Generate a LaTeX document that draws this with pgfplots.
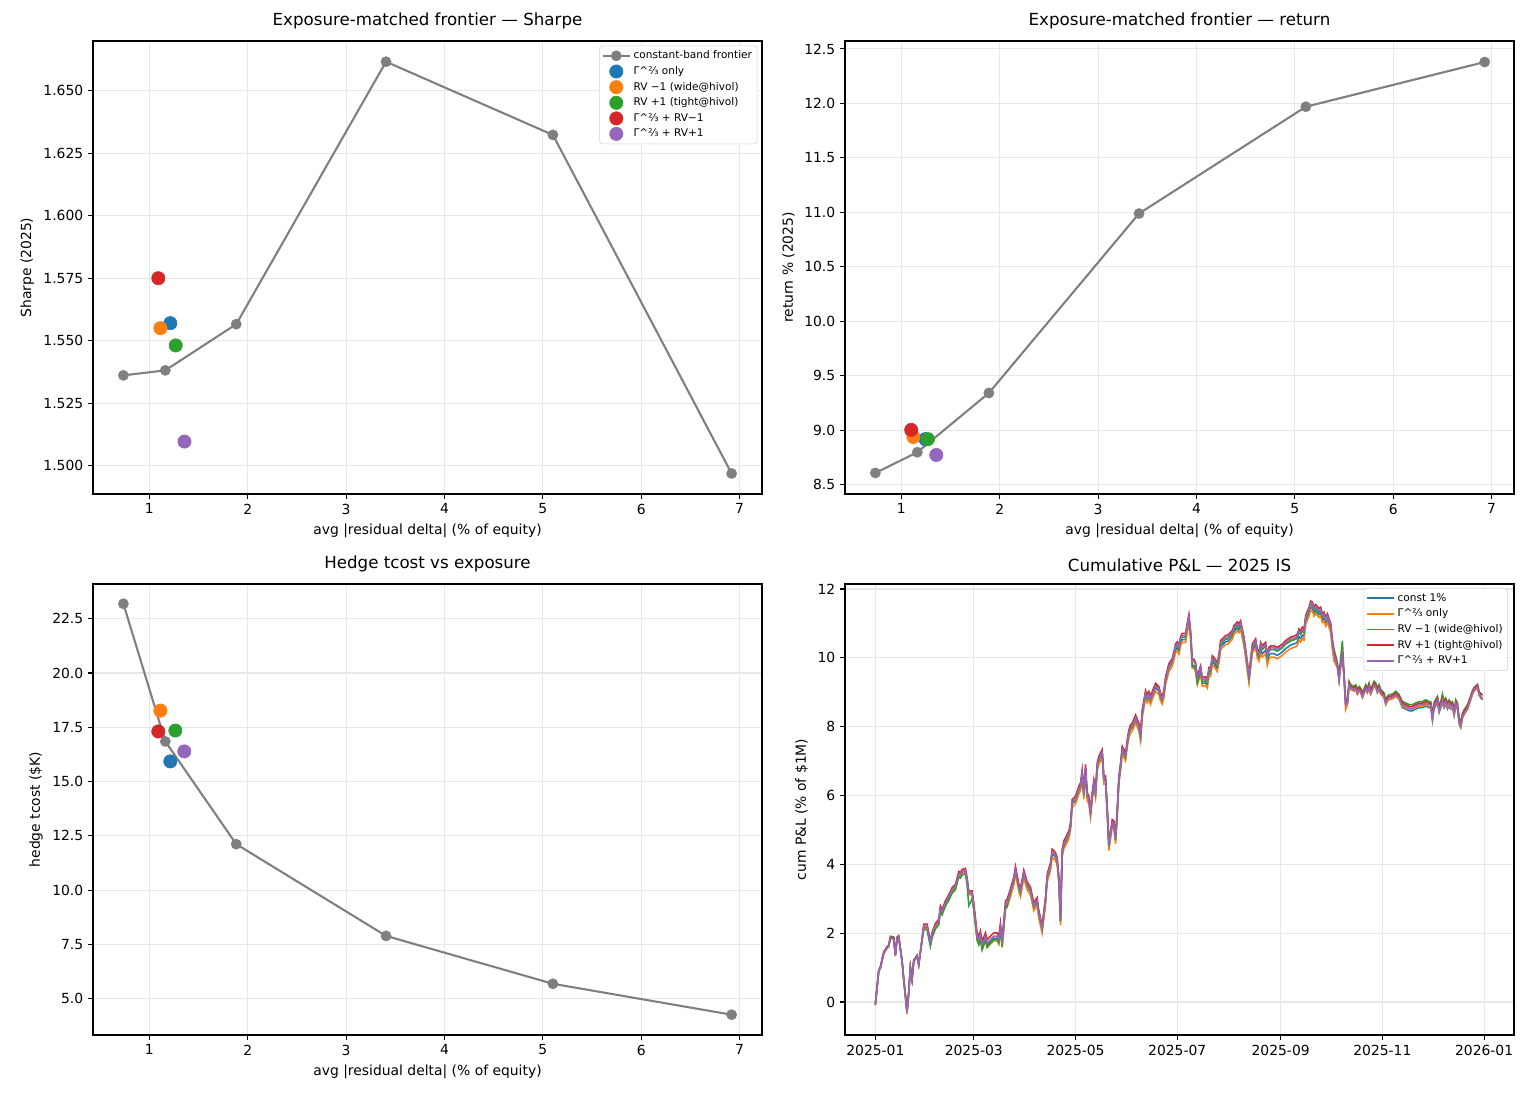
\documentclass[border=0pt]{standalone}
\usepackage{pgfplots}
\pgfplotsset{compat=1.18}
\usepackage{pgfplotstable}
\usepackage{fontspec}
\setmainfont{DejaVu Sans}
\definecolor{cB}{HTML}{1F77B4}
\definecolor{cO}{HTML}{FF7F0E}
\definecolor{cG}{HTML}{2CA02C}
\definecolor{cR}{HTML}{D62728}
\definecolor{cP}{HTML}{9467BD}
\definecolor{cK}{HTML}{7F7F7F}
\definecolor{gridc}{HTML}{E7E7E7}

\pgfplotstableread{
d c g m p k
0 -0.08 -0.10 -0.05 -0.06 -0.08
2 0.89 0.87 0.92 0.91 0.89
3 0.99 0.97 1.02 1.01 0.99
5 1.42 1.40 1.45 1.44 1.42
7 1.57 1.55 1.60 1.59 1.57
8 1.62 1.60 1.65 1.64 1.62
9 1.86 1.84 1.91 1.88 1.86
11 1.84 1.82 1.89 1.86 1.84
12 1.35 1.33 1.38 1.37 1.35
13 1.84 1.82 1.89 1.86 1.84
14 1.88 1.86 1.93 1.90 1.88
16 1.18 1.16 1.21 1.20 1.18
17 0.65 0.63 0.68 0.67 0.65
19 -0.30 -0.35 -0.27 -0.28 -0.30
20 0.26 0.24 0.29 0.28 0.26
21 0.99 0.97 1.02 1.01 0.99
22 0.65 0.63 0.68 0.67 0.65
23 1.18 1.16 1.21 1.20 1.18
25 1.33 1.31 1.36 1.35 1.33
26 1.08 1.06 1.11 1.10 1.08
28 1.81 1.79 1.80 1.83 1.81
29 2.17 2.14 2.10 2.26 2.20
31 2.17 2.14 2.10 2.26 2.20
33 1.68 1.65 1.61 1.77 1.71
34 1.93 1.90 1.86 2.02 1.96
36 2.19 2.16 2.12 2.28 2.22
38 2.31 2.28 2.24 2.40 2.34
39 2.70 2.67 2.63 2.79 2.73
40 2.60 2.57 2.53 2.69 2.63
42 2.85 2.82 2.78 2.94 2.88
44 3.02 2.99 2.95 3.11 3.05
46 3.23 3.20 3.16 3.32 3.26
48 3.33 3.30 3.26 3.42 3.36
50 3.70 3.67 3.63 3.79 3.73
51 3.67 3.64 3.60 3.76 3.70
52 3.76 3.73 3.69 3.85 3.79
54 3.79 3.76 3.72 3.88 3.82
55 3.52 3.49 3.40 3.61 3.55
56 3.14 3.11 2.80 3.23 3.17
58 3.14 3.11 3.00 3.23 3.17
59 2.72 2.65 2.68 2.88 2.78
61 1.85 1.78 1.81 2.01 1.91
62 1.75 1.68 1.66 1.91 1.81
63 1.90 1.83 1.81 2.06 1.96
64 1.60 1.53 1.51 1.76 1.66
66 1.85 1.78 1.79 2.01 1.91
67 1.65 1.58 1.59 1.81 1.71
69 1.75 1.68 1.71 1.91 1.81
71 1.85 1.78 1.81 2.01 1.91
73 1.85 1.78 1.81 2.01 1.91
74 1.75 1.68 1.71 1.91 1.81
75 2.14 2.07 2.10 2.30 2.20
76 1.65 1.58 1.61 1.81 1.71
78 2.77 2.70 2.73 2.93 2.83
79 2.82 2.75 2.78 2.98 2.88
81 3.16 3.06 3.18 3.29 3.21
83 3.50 3.40 3.52 3.63 3.55
84 3.81 3.71 3.83 3.94 3.86
86 3.31 3.21 3.33 3.44 3.36
87 3.16 3.06 3.18 3.29 3.21
89 3.70 3.60 3.72 3.83 3.75
91 3.36 3.26 3.38 3.49 3.41
93 3.21 3.11 3.23 3.34 3.26
95 2.75 2.65 2.77 2.88 2.80
97 2.90 2.80 2.92 3.03 2.95
98 2.53 2.43 2.55 2.66 2.58
100 2.10 2.00 2.12 2.23 2.15
102 2.91 2.81 2.93 3.04 2.96
103 3.58 3.48 3.60 3.71 3.63
105 3.92 3.82 3.94 4.05 3.97
106 4.31 4.21 4.33 4.44 4.36
108 4.21 4.11 4.23 4.34 4.26
109 4.07 3.97 4.09 4.20 4.12
110 3.54 3.44 3.56 3.67 3.59
111 2.33 2.23 2.35 2.46 2.38
112 4.31 4.21 4.33 4.44 4.36
113 4.55 4.45 4.57 4.68 4.60
114 4.64 4.54 4.66 4.77 4.69
116 4.84 4.74 4.86 4.97 4.89
117 5.08 4.98 5.10 5.21 5.13
118 5.75 5.65 5.77 5.88 5.80
120 5.85 5.75 5.87 5.98 5.90
121 5.99 5.89 6.01 6.12 6.04
122 6.14 6.04 6.16 6.27 6.19
123 6.24 6.14 6.26 6.37 6.29
124 6.62 6.52 6.64 6.75 6.67
125 5.99 5.89 6.01 6.12 6.04
126 6.77 6.67 6.79 6.90 6.82
127 5.95 5.85 5.97 6.08 6.00
128 5.85 5.75 5.87 5.98 5.90
129 5.46 5.36 5.48 5.59 5.51
130 5.95 5.85 5.97 6.08 6.00
131 6.33 6.23 6.35 6.46 6.38
132 6.04 5.94 6.06 6.17 6.09
133 6.81 6.71 6.83 6.94 6.86
134 7.01 6.91 7.03 7.14 7.06
136 7.20 7.10 7.22 7.33 7.25
137 6.43 6.33 6.45 6.56 6.48
138 6.43 6.33 6.45 6.56 6.48
139 5.56 5.46 5.58 5.69 5.61
140 4.50 4.40 4.52 4.63 4.55
142 5.17 5.07 5.19 5.30 5.22
143 5.13 5.03 5.15 5.26 5.18
144 4.69 4.59 4.71 4.82 4.74
145 5.46 5.36 5.48 5.59 5.51
146 6.43 6.33 6.45 6.56 6.48
147 6.81 6.71 6.83 6.94 6.86
148 7.30 7.20 7.32 7.43 7.35
150 7.10 7.00 7.12 7.23 7.15
151 7.49 7.39 7.51 7.62 7.54
152 7.78 7.68 7.80 7.91 7.83
153 7.92 7.82 7.94 8.05 7.97
154 7.97 7.87 7.99 8.10 8.02
156 8.21 8.11 8.23 8.34 8.26
158 7.97 7.87 7.99 8.10 8.02
159 7.68 7.58 7.70 7.81 7.73
160 8.36 8.26 8.38 8.49 8.41
162 8.92 8.82 8.94 9.05 8.97
163 8.79 8.69 8.81 8.92 8.84
164 8.89 8.79 8.91 9.02 8.94
165 8.74 8.64 8.76 8.87 8.79
166 8.89 8.79 8.91 9.02 8.94
168 9.13 9.03 9.22 9.26 9.18
170 9.03 8.93 9.05 9.16 9.08
171 8.84 8.74 8.86 8.97 8.89
172 8.75 8.65 8.77 8.88 8.80
173 8.94 8.84 8.96 9.07 8.99
174 9.32 9.22 9.34 9.45 9.37
176 9.70 9.60 9.72 9.83 9.75
178 9.85 9.75 9.87 9.98 9.90
179 10.05 9.95 10.07 10.18 10.10
180 10.23 10.15 10.30 10.41 10.35
181 10.28 10.20 10.35 10.46 10.40
182 10.18 10.10 10.25 10.36 10.30
183 10.43 10.35 10.50 10.61 10.55
184 10.53 10.45 10.60 10.71 10.65
186 10.53 10.45 10.60 10.71 10.65
187 10.83 10.75 10.90 11.01 10.95
188 11.08 11.00 11.15 11.26 11.20
189 10.61 10.53 10.68 10.79 10.73
190 9.78 9.70 9.75 9.96 9.90
191 9.78 9.70 9.75 9.96 9.90
192 9.68 9.60 9.65 9.86 9.80
193 9.29 9.21 9.28 9.47 9.41
195 9.59 9.51 9.60 9.77 9.71
196 9.25 9.17 9.30 9.43 9.37
198 9.27 9.19 9.34 9.45 9.39
199 9.20 9.12 9.27 9.38 9.32
200 9.54 9.46 9.61 9.72 9.66
201 9.54 9.46 9.61 9.72 9.66
202 9.88 9.80 9.95 10.06 10.00
203 9.83 9.75 9.90 10.01 9.95
205 9.68 9.60 9.75 9.86 9.80
206 9.93 9.85 10.00 10.11 10.05
207 10.32 10.24 10.39 10.50 10.44
209 10.42 10.34 10.49 10.60 10.54
210 10.47 10.39 10.54 10.65 10.59
211 10.47 10.39 10.54 10.65 10.59
212 10.51 10.43 10.58 10.69 10.63
214 10.61 10.53 10.68 10.79 10.73
215 10.76 10.68 10.83 10.94 10.88
217 10.86 10.78 10.93 11.04 10.98
218 10.81 10.73 10.88 10.99 10.93
219 10.90 10.82 10.97 11.08 11.02
220 10.66 10.58 10.73 10.84 10.78
221 10.42 10.34 10.49 10.60 10.54
222 10.08 10.00 10.15 10.26 10.20
224 9.34 9.26 9.41 9.52 9.46
225 9.78 9.70 9.85 9.96 9.90
226 10.22 10.14 10.29 10.40 10.34
228 10.37 10.29 10.44 10.55 10.49
229 10.08 10.00 10.15 10.26 10.20
230 9.98 9.90 10.05 10.16 10.10
231 10.22 10.12 10.34 10.45 10.39
232 10.12 10.02 10.24 10.35 10.29
234 10.22 10.12 10.34 10.45 10.39
235 9.88 9.78 10.00 10.11 10.05
236 10.07 9.97 10.19 10.30 10.24
237 10.12 10.02 10.24 10.35 10.29
239 10.12 10.02 10.24 10.35 10.29
241 10.07 9.97 10.19 10.30 10.24
244 10.17 10.07 10.29 10.40 10.34
246 10.27 10.17 10.39 10.50 10.44
249 10.37 10.27 10.49 10.60 10.54
252 10.42 10.32 10.54 10.65 10.59
253 10.46 10.36 10.58 10.69 10.63
254 10.61 10.51 10.73 10.84 10.78
255 10.56 10.46 10.68 10.79 10.73
256 10.66 10.56 10.78 10.89 10.83
257 10.61 10.51 10.73 10.84 10.78
258 11.05 10.97 11.12 11.23 11.17
260 11.29 11.21 11.36 11.47 11.41
261 11.47 11.39 11.54 11.65 11.59
262 11.44 11.36 11.51 11.62 11.56
263 11.29 11.21 11.36 11.47 11.41
264 11.37 11.29 11.44 11.55 11.49
266 11.25 11.17 11.32 11.43 11.37
267 11.29 11.21 11.36 11.47 11.41
268 11.10 11.02 11.17 11.28 11.22
269 11.15 11.07 11.22 11.33 11.27
270 11.00 10.92 11.15 11.18 11.12
271 11.10 11.02 11.25 11.28 11.22
273 10.81 10.73 10.98 10.99 10.93
274 10.32 10.24 10.54 10.50 10.44
275 9.98 9.90 10.25 10.16 10.10
277 9.73 9.72 9.86 9.81 9.76
278 9.34 9.33 9.47 9.42 9.37
279 9.77 9.76 10.00 9.85 9.80
280 10.07 10.06 10.50 10.15 10.10
281 9.43 9.42 9.56 9.51 9.46
282 8.55 8.50 8.73 8.68 8.63
283 8.65 8.64 8.78 8.73 8.68
284 9.19 9.18 9.32 9.27 9.22
285 9.09 9.08 9.22 9.17 9.12
287 9.04 9.03 9.17 9.12 9.07
288 9.09 9.08 9.22 9.17 9.12
289 8.95 8.94 9.08 9.03 8.98
290 9.04 9.03 9.17 9.12 9.07
291 8.99 8.98 9.12 9.07 9.02
292 8.85 8.84 8.98 8.93 8.88
294 9.09 9.08 9.22 9.17 9.12
295 8.99 8.98 9.12 9.07 9.02
296 9.14 9.13 9.27 9.22 9.17
297 8.95 8.94 9.08 9.03 8.98
299 9.19 9.18 9.32 9.27 9.22
300 9.14 9.13 9.27 9.22 9.17
301 8.99 8.98 9.12 9.07 9.02
302 9.09 9.08 9.22 9.17 9.12
303 8.95 8.94 9.08 9.03 8.98
305 8.85 8.84 8.98 8.93 8.88
306 8.65 8.64 8.78 8.73 8.68
307 8.75 8.74 8.88 8.83 8.78
308 8.80 8.79 8.93 8.88 8.83
309 8.80 8.79 8.93 8.88 8.83
311 8.85 8.84 8.98 8.93 8.88
312 8.90 8.89 9.03 8.98 8.93
314 8.80 8.79 8.93 8.88 8.83
316 8.55 8.59 8.73 8.68 8.63
318 8.51 8.55 8.69 8.64 8.59
320 8.46 8.50 8.64 8.59 8.54
322 8.46 8.50 8.64 8.59 8.54
324 8.51 8.55 8.69 8.64 8.59
326 8.55 8.59 8.73 8.68 8.63
328 8.55 8.59 8.73 8.68 8.63
330 8.60 8.64 8.78 8.73 8.68
332 8.55 8.59 8.73 8.68 8.63
333 8.55 8.59 8.73 8.68 8.63
334 8.17 8.21 8.35 8.30 8.25
335 8.52 8.56 8.70 8.65 8.60
337 8.70 8.74 8.88 8.83 8.78
338 8.41 8.45 8.59 8.54 8.49
339 8.55 8.59 8.73 8.68 8.63
340 8.70 8.74 8.95 8.83 8.78
341 8.55 8.59 8.73 8.68 8.63
342 8.65 8.69 8.83 8.78 8.73
343 8.51 8.55 8.69 8.64 8.59
344 8.60 8.64 8.78 8.73 8.68
345 8.51 8.55 8.69 8.64 8.59
346 8.55 8.59 8.73 8.68 8.63
347 8.31 8.35 8.49 8.44 8.39
348 8.60 8.64 8.78 8.73 8.68
349 8.51 8.55 8.69 8.64 8.59
350 8.07 8.11 8.25 8.20 8.15
351 7.97 8.01 8.15 8.10 8.05
352 8.26 8.25 8.39 8.34 8.29
353 8.36 8.35 8.49 8.44 8.39
355 8.51 8.50 8.64 8.59 8.54
357 8.80 8.79 8.90 8.88 8.83
358 8.95 8.94 9.05 9.03 8.98
359 9.04 9.03 9.14 9.12 9.07
361 9.14 9.13 9.22 9.22 9.17
362 8.92 8.91 9.02 9.00 8.95
363 8.83 8.88 8.95 8.95 8.85
364 8.80 8.85 8.92 8.92 8.78
}\pnl

\pgfplotsset{
  base/.style={
    scale only axis,
    anchor=south west,
    width=481.68pt,
    axis line style={line width=0.8pt},
    every tick/.style={black, line width=0.8pt},
    tick align=outside,
    major tick length=3.5pt,
    xtick pos=bottom, ytick pos=left,
    grid=major,
    major grid style={gridc, line width=0.8pt},
    tick label style={font=\fontsize{10}{12}\selectfont},
    label style={font=\fontsize{10}{12}\selectfont},
    title style={font=\fontsize{12}{14}\selectfont, yshift=-1pt},
    /pgf/number format/assume math mode=true,
    legend cell align=left,
    legend style={font=\fontsize{7.6}{9}\selectfont, draw=gray!35, rounded corners=2pt,
      fill=white, inner sep=1.6pt, row sep=0pt},
  },
  frontx/.style={
    xmin=0.427, xmax=7.228,
    xtick={1,2,3,4,5,6,7},
    xticklabels={1,2,3,4,5,6,7},
    xlabel={avg |residual delta| (\% of equity)},
  },
  sc/.style={color=#1, draw=#1, fill=#1, only marks, mark=*, mark size=4.8pt},
  fr/.style={color=cK, draw=cK, line width=1.5pt, mark=*, mark size=3.8pt, mark options={fill=cK, draw=cK, line width=0.1pt}},
  pl/.style={color=#1, draw=#1, line width=1.1pt, mark=none},
}

\begin{document}
\begin{tikzpicture}
\path[use as bounding box] (0,0) rectangle (1108.8pt,792pt);

% Top-left: Sharpe
\begin{axis}[base, frontx, at={(66.96pt,436.32pt)}, height=326.16pt,
  ymin=1.4886, ymax=1.6700,
  ytick={1.500,1.525,1.550,1.575,1.600,1.625,1.650},
  yticklabels={1.500,1.525,1.550,1.575,1.600,1.625,1.650},
  ylabel={Sharpe (2025)},
  title={Exposure-matched frontier — Sharpe},
  legend style={at={(0.993,0.99)}, anchor=north east},
  legend image code/.code={\draw[mark repeat=2,mark phase=2] plot coordinates {(0cm,0cm) (0.34cm,0cm) (0.68cm,0cm)};}]
\addplot[fr] coordinates {(0.736,1.5361) (1.162,1.5381) (1.883,1.5566) (3.406,1.6617) (5.102,1.6324) (6.919,1.4968)};
\addlegendentry{constant-band frontier}
\addplot[sc=cB] coordinates {(1.213,1.5570)};
\addlegendentry{Γ\textasciicircum⅔ only}
\addplot[sc=cO] coordinates {(1.112,1.5550)};
\addlegendentry{RV −1 (wide@hivol)}
\addplot[sc=cG] coordinates {(1.268,1.5481)};
\addlegendentry{RV +1 (tight@hivol)}
\addplot[sc=cR] coordinates {(1.091,1.5750)};
\addlegendentry{Γ\textasciicircum⅔ + RV−1}
\addplot[sc=cP] coordinates {(1.357,1.5096)};
\addlegendentry{Γ\textasciicircum⅔ + RV+1}
\end{axis}

% Top-right: return
\begin{axis}[base, frontx, at={(608.4pt,436.32pt)}, height=326.16pt,
  ymin=8.417, ymax=12.573,
  ytick={8.5,9,9.5,10,10.5,11,11.5,12,12.5},
  yticklabels={8.5,9.0,9.5,10.0,10.5,11.0,11.5,12.0,12.5},
  ylabel={return \% (2025)},
  title={Exposure-matched frontier — return}]
\addplot[fr] coordinates {(0.736,8.61) (1.162,8.80) (1.89,9.344) (3.416,10.99) (5.112,11.97) (6.93,12.38)};
\addplot[sc=cB] coordinates {(1.244,8.92)};
\addplot[sc=cO] coordinates {(1.122,8.94)};
\addplot[sc=cG] coordinates {(1.27,8.92)};
\addplot[sc=cR] coordinates {(1.10,9.005)};
\addplot[sc=cP] coordinates {(1.355,8.775)};
\end{axis}

% Bottom-left: hedge tcost
\begin{axis}[base, frontx, at={(66.96pt,46.8pt)}, height=324.72pt,
  ymin=3.33, ymax=24.1,
  ytick={5,7.5,10,12.5,15,17.5,20,22.5},
  yticklabels={5.0,7.5,10.0,12.5,15.0,17.5,20.0,22.5},
  ylabel={hedge tcost (\$K)},
  title={Hedge tcost vs exposure}]
\addplot[fr] coordinates {(0.736,23.19) (1.162,16.85) (1.883,12.12) (3.406,7.894) (5.102,5.689) (6.919,4.265)};
\addplot[sc=cB] coordinates {(1.213,15.93)};
\addplot[sc=cO] coordinates {(1.112,18.27)};
\addplot[sc=cG] coordinates {(1.264,17.35)};
\addplot[sc=cR] coordinates {(1.091,17.31)};
\addplot[sc=cP] coordinates {(1.355,16.39)};
\end{axis}

% Bottom-right: cumulative P&L
\begin{axis}[base, at={(608.4pt,46.8pt)}, height=324.72pt,
  xmin=-18.2, xmax=382.9,
  ymin=-0.96, ymax=12.145,
  xtick={0,59,120,181,243,304,365},
  xticklabels={2025-01,2025-03,2025-05,2025-07,2025-09,2025-11,2026-01},
  ytick={0,2,4,6,8,10,12},
  yticklabels={0,2,4,6,8,10,12},
  ylabel={cum P\&L (\% of \$1M)},
  title={Cumulative P\&L — 2025 IS},
  legend style={at={(0.991,0.991)}, anchor=north east},
  legend image code/.code={\draw[line width=1.4pt] (0cm,0cm) -- (0.68cm,0cm);}]
\addplot[pl=cB] table[x=d, y=c] {\pnl};
\addlegendentry{const 1\%}
\addplot[pl=cO] table[x=d, y=g] {\pnl};
\addlegendentry{Γ\textasciicircum⅔ only}
\addplot[pl=cG] table[x=d, y=m] {\pnl};
\addlegendentry{RV −1 (wide@hivol)}
\addplot[pl=cR] table[x=d, y=p] {\pnl};
\addlegendentry{RV +1 (tight@hivol)}
\addplot[pl=cP] table[x=d, y=k] {\pnl};
\addlegendentry{Γ\textasciicircum⅔ + RV+1}
\end{axis}
\end{tikzpicture}
\end{document}
